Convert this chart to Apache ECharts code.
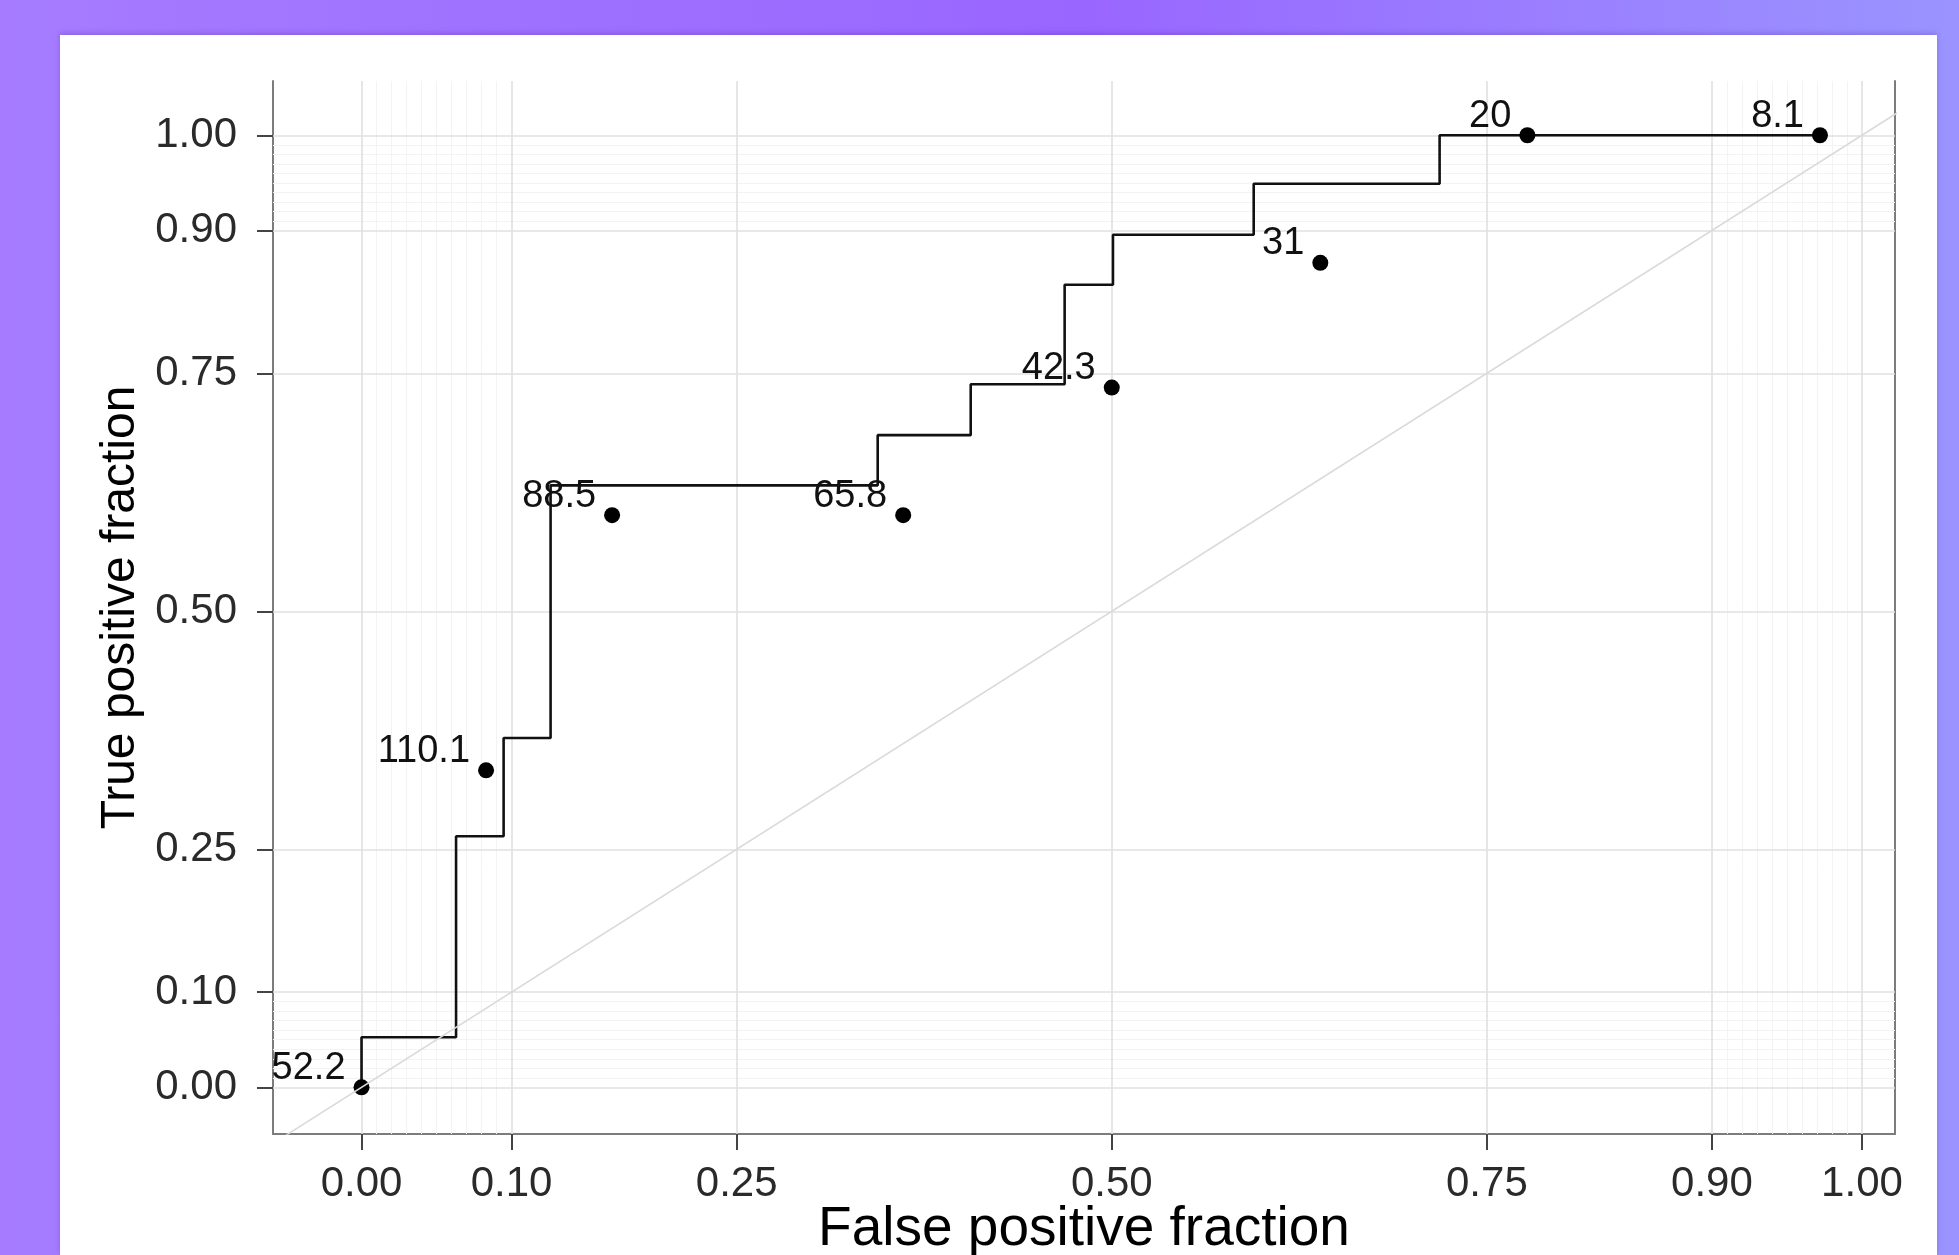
<!DOCTYPE html>
<html><head><meta charset="utf-8">
<script src="https://cdn.jsdelivr.net/npm/echarts@6/dist/echarts.min.js"></script>
<style>
html,body{margin:0;padding:0;width:1959px;height:1255px;overflow:hidden;}
body{position:relative;background:linear-gradient(90deg,#a67cff 0%,#9e70ff 30%,#9966ff 55%,#9a80ff 80%,#9a94ff 100%);}
#card{position:absolute;left:60px;top:35px;width:1877px;height:1220px;background:#fff;box-shadow:0 -2px 5px rgba(70,30,150,0.25);}
#chart{position:absolute;left:0;top:0;width:1959px;height:1255px;}
</style></head><body>
<div id="card"></div><div id="chart"></div>
<script>
// tick breaks (both axes)
const majorBreaks = [0, 0.1, 0.25, 0.5, 0.75, 0.9, 1.0];
const minorBreaks = [0.01, 0.02, 0.03, 0.04, 0.05, 0.06, 0.07, 0.08, 0.09,
                     0.91, 0.92, 0.93, 0.94, 0.95, 0.96, 0.97, 0.98, 0.99];

// empirical ROC step curve (corner points, vertical step first)
const stepFPF = [0, 0.063, 0.0947, 0.126, 0.344, 0.406, 0.4686, 0.5008, 0.5946, 0.7185, 0.9722];
const stepTPF = [0, 0.0526, 0.2638, 0.367, 0.6323, 0.685, 0.7385, 0.843, 0.8955, 0.949, 1.0];

// labelled cutoff points
const cutoffLabels = ['52.2', '110.1', '88.5', '65.8', '42.3', '31', '20', '8.1'];
const pointFPF = [0, 0.083, 0.167, 0.361, 0.500, 0.639, 0.777, 0.972];
const pointTPF = [0, 0.333, 0.601, 0.601, 0.735, 0.866, 1.0, 1.0];

// reference diagonal
const diagX = [-0.1, 1.1];
const diagY = [-0.1, 1.1];

const xMin = -0.059, xMax = 1.022, yMin = -0.049, yMax = 1.057;
const FONT = 'Liberation Sans, Arial, Helvetica, sans-serif';

const chart = echarts.init(document.getElementById('chart'), null, {renderer: 'canvas', width: 1959, height: 1255});

const majorStyle = {color: '#e0e0e0', width: 1.6, type: 'solid'};
const minorStyle = {color: '#f3f3f3', width: 1, type: 'solid'};
const gridMarks = [];
minorBreaks.forEach(v => { gridMarks.push({xAxis: v, lineStyle: minorStyle}); });
minorBreaks.forEach(v => { gridMarks.push({yAxis: v, lineStyle: minorStyle}); });
majorBreaks.forEach(v => { gridMarks.push({xAxis: v, lineStyle: majorStyle}); });
majorBreaks.forEach(v => { gridMarks.push({yAxis: v, lineStyle: majorStyle}); });

const axisLineStyle = {color: '#7c7c7c', width: 2};

chart.setOption({
  animation: false,
  backgroundColor: 'transparent',
  grid: {left: 273, width: 1622, top: 81, height: 1053, containLabel: false, outerBoundsMode: 'none'},
  xAxis: {
    type: 'value', min: xMin, max: xMax,
    name: 'False positive fraction', nameLocation: 'middle', nameGap: 68, nameMoveOverlap: false,
    nameTextStyle: {fontFamily: FONT, fontSize: 55, color: '#000'},
    axisLine: {show: true, onZero: false, lineStyle: axisLineStyle},
    axisTick: {show: true, length: 16, inside: false, customValues: majorBreaks, lineStyle: {color: '#444', width: 2}},
    axisLabel: {show: true, customValues: majorBreaks, margin: 29, fontFamily: FONT, fontSize: 42, color: '#2a2a2a',
      formatter: v => v.toFixed(2)},
    splitLine: {show: false}
  },
  yAxis: [{
    type: 'value', min: yMin, max: yMax,
    name: 'True positive fraction', nameLocation: 'middle', nameGap: 128, nameMoveOverlap: false,
    nameTextStyle: {fontFamily: FONT, fontSize: 48, color: '#000'},
    axisLine: {show: true, onZero: false, lineStyle: axisLineStyle},
    axisTick: {show: true, length: 16, inside: false, customValues: majorBreaks, lineStyle: {color: '#444', width: 2}},
    axisLabel: {show: true, customValues: majorBreaks, margin: 36, fontFamily: FONT, fontSize: 42, color: '#2a2a2a',
      formatter: v => v.toFixed(2)},
    splitLine: {show: false}
  }, {
    type: 'value', min: yMin, max: yMax, position: 'right',
    axisLine: {show: true, onZero: false, lineStyle: axisLineStyle},
    axisTick: {show: false}, axisLabel: {show: false}, splitLine: {show: false}
  }],
  series: [
    {
      type: 'line', name: 'grid', data: [], z: 1, silent: true,
      markLine: {silent: true, z: 1, symbol: ['none', 'none'], label: {show: false}, data: gridMarks, animation: false,
        emphasis: {disabled: true}}
    },
    {
      type: 'line', name: 'roc', z: 3, step: 'start', showSymbol: false, clip: true, silent: true,
      data: stepFPF.map((x, i) => [x, stepTPF[i]]),
      lineStyle: {color: '#111', width: 2.6}
    },
    {
      type: 'scatter', name: 'cutoffs', z: 4, symbol: 'circle', symbolSize: 16, silent: true,
      itemStyle: {color: '#000', opacity: 1},
      data: pointFPF.map((x, i) => [x, pointTPF[i]]),
      label: {
        show: true, position: [-8, 8], align: 'right', verticalAlign: 'bottom',
        fontFamily: FONT, fontSize: 38, color: '#111', lineHeight: 38,
        formatter: p => cutoffLabels[p.dataIndex]
      }
    },
    {
      type: 'line', name: 'diag', z: 5, showSymbol: false, clip: true, silent: true,
      data: diagX.map((x, i) => [x, diagY[i]]),
      lineStyle: {color: '#dadada', width: 1.6}
    }
  ]
});
</script>
</body></html>
